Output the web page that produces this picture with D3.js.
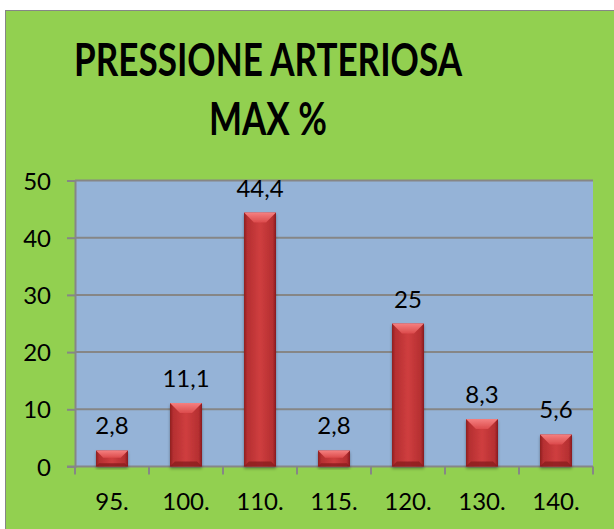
<!DOCTYPE html>
<html>
<head>
<meta charset="utf-8">
<script src="https://cdn.jsdelivr.net/npm/d3@7"></script>
<style>
  html, body { margin: 0; padding: 0; background: #ffffff; }
  svg { display: block; }
  text { font-family: Lato, "Open Sans", sans-serif; fill: #000; }
</style>
</head>
<body>
<svg id="chart" width="614" height="529"></svg>
<script>
// Blood pressure (max) distribution, percent of subjects
const categories = ["95.", "100.", "110.", "115.", "120.", "130.", "140."];
const values = [2.8, 11.1, 44.4, 2.8, 25, 8.3, 5.6];
const yTicks = [0, 10, 20, 30, 40, 50];
const titleLines = ["PRESSIONE ARTERIOSA", "MAX %"];

const svg = d3.select("#chart");
const plot = { left: 75, right: 593, top: 180.5, bottom: 466.5 };

const x = d3.scaleBand()
  .domain(categories)
  .range([plot.left, plot.right])
  .paddingInner(0.5676)
  .paddingOuter(0.2838);

const y = d3.scaleLinear().domain([0, 50]).range([plot.bottom, plot.top]);

const defs = svg.append("defs");

// horizontal shading across each bar
const body = defs.append("linearGradient").attr("id", "barBody")
  .attr("x1", 0).attr("x2", 1).attr("y1", 0).attr("y2", 0);
[["0%", "#8e1e20"], ["10%", "#b52f31"], ["50%", "#cf3e3f"], ["90%", "#b52f31"], ["100%", "#861b1d"]]
  .forEach(([o, c]) => body.append("stop").attr("offset", o).attr("stop-color", c));

const bevelTop = defs.append("linearGradient").attr("id", "bevelTop")
  .attr("x1", 0).attr("x2", 0).attr("y1", 0).attr("y2", 1);
[["0%", "#f58080"], ["100%", "#dc4b4c"]]
  .forEach(([o, c]) => bevelTop.append("stop").attr("offset", o).attr("stop-color", c));

const shadow = defs.append("filter").attr("id", "barShadow")
  .attr("x", "-20%").attr("y", "-20%").attr("width", "140%").attr("height", "140%");
shadow.append("feDropShadow").attr("dx", 0).attr("dy", 2).attr("stdDeviation", 1.5)
  .attr("flood-color", "#000").attr("flood-opacity", 0.35);

// chart area background with frame
svg.append("rect")
  .attr("x", 5.5).attr("y", 10.5).attr("width", 700).attr("height", 600)
  .attr("fill", "#92d050").attr("stroke", "#868686").attr("stroke-width", 1);

// title
const titleX = 268;
svg.append("text").attr("x", titleX).attr("y", 76)
  .attr("text-anchor", "middle").attr("font-weight", 700).attr("font-size", 45)
  .attr("textLength", 388).attr("lengthAdjust", "spacingAndGlyphs")
  .text(titleLines[0]);
svg.append("text").attr("x", titleX).attr("y", 135)
  .attr("text-anchor", "middle").attr("font-weight", 700).attr("font-size", 45)
  .attr("textLength", 118).attr("lengthAdjust", "spacingAndGlyphs")
  .text(titleLines[1]);

// plot area
svg.append("rect")
  .attr("x", plot.left).attr("y", plot.top)
  .attr("width", plot.right - plot.left).attr("height", plot.bottom - plot.top)
  .attr("fill", "#95b3d7");

// gridlines
svg.append("g").selectAll("line").data(yTicks.filter(t => t > 0)).join("line")
  .attr("x1", plot.left).attr("x2", plot.right)
  .attr("y1", d => y(d)).attr("y2", d => y(d))
  .attr("stroke", "#868686").attr("stroke-width", 2);

// y axis
const yAxis = svg.append("g").attr("transform", `translate(${plot.left},0)`)
  .call(d3.axisLeft(y).tickValues(yTicks).tickSize(8).tickPadding(16).tickFormat(d3.format("d")));
yAxis.select(".domain").attr("stroke", "#868686").attr("stroke-width", 2);
yAxis.selectAll(".tick line").attr("stroke", "#868686").attr("stroke-width", 2);
yAxis.selectAll(".tick text")
  .attr("font-family", "Lato, sans-serif").attr("font-size", 24).attr("fill", "#000")
  .attr("dy", 8.5).attr("x", -24);

// x axis: baseline and boundary ticks
const step = x.step();
const bounds = categories.map(c => x(c) - x.paddingInner() * step / 2 ).concat([plot.right]);
bounds[0] = plot.left;
const xAxis = svg.append("g");
xAxis.append("line")
  .attr("x1", plot.left - 8).attr("x2", plot.right)
  .attr("y1", plot.bottom).attr("y2", plot.bottom)
  .attr("stroke", "#868686").attr("stroke-width", 2);
xAxis.selectAll("line.tick").data(bounds).join("line").attr("class", "tick")
  .attr("x1", d => d).attr("x2", d => d)
  .attr("y1", plot.bottom).attr("y2", plot.bottom + 8)
  .attr("stroke", "#868686").attr("stroke-width", 2);
xAxis.selectAll("text").data(categories).join("text")
  .attr("x", d => x(d) + x.bandwidth() / 2).attr("y", 510)
  .attr("text-anchor", "middle").attr("font-size", 24)
  .text(d => d);

// bars with bevelled look
const bw = x.bandwidth();
const bars = svg.append("g").selectAll("g").data(categories.map((c, i) => ({ c, v: values[i] })))
  .join("g").attr("filter", "url(#barShadow)");

bars.append("rect")
  .attr("x", d => x(d.c)).attr("y", d => y(d.v))
  .attr("width", bw).attr("height", d => y(0) - y(d.v))
  .attr("fill", "url(#barBody)");

// top bevel
bars.append("path")
  .attr("d", d => {
    const x0 = x(d.c), x1 = x0 + bw, t = y(d.v), h = y(0) - t;
    const b = Math.min(10, h * 0.45);
    return `M${x0},${t}L${x1},${t}L${x1 - b},${t + b}L${x0 + b},${t + b}Z`;
  })
  .attr("fill", "url(#bevelTop)");

// bottom bevel
bars.append("path")
  .attr("d", d => {
    const x0 = x(d.c), x1 = x0 + bw, t = y(d.v), h = y(0) - t;
    const b = Math.min(5, h * 0.2);
    const bot = y(0);
    return `M${x0},${bot}L${x1},${bot}L${x1 - b},${bot - b}L${x0 + b},${bot - b}Z`;
  })
  .attr("fill", "#8a1d1f").attr("opacity", 0.8);

// value labels
svg.append("g").selectAll("text").data(categories.map((c, i) => ({ c, v: values[i] })))
  .join("text")
  .attr("x", d => x(d.c) + bw / 2).attr("y", d => y(d.v) - 16)
  .attr("text-anchor", "middle").attr("font-size", 24)
  .text(d => String(d.v).replace(".", ","));
</script>
</body>
</html>
